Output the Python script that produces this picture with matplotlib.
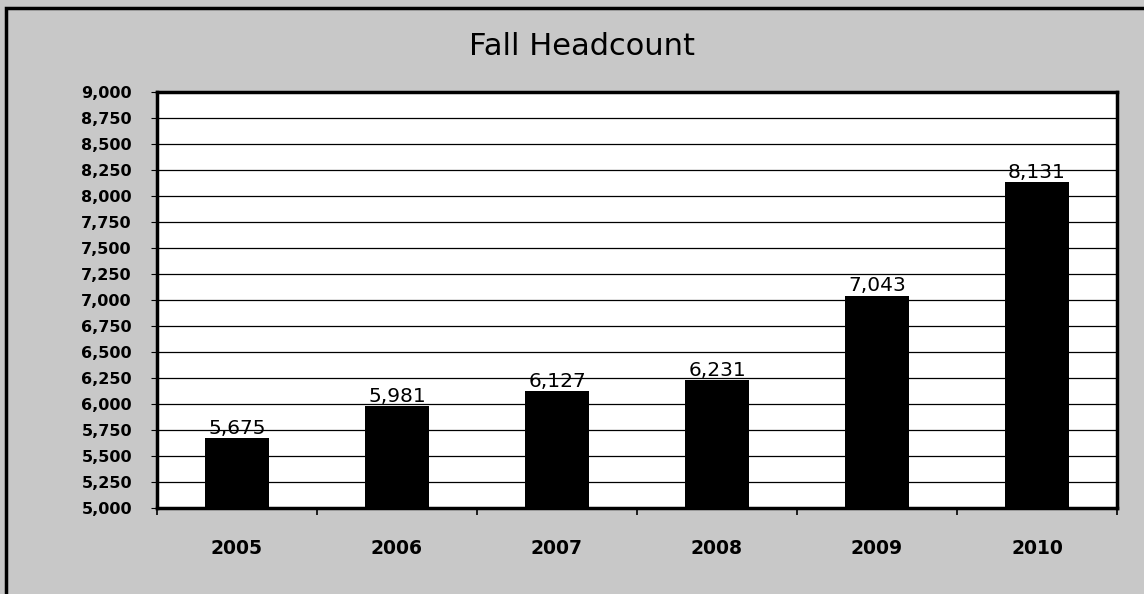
import matplotlib.pyplot as plt
from matplotlib.patches import Rectangle
from matplotlib.ticker import FuncFormatter, MultipleLocator, FixedLocator

# data
years = ['2005', '2006', '2007', '2008', '2009', '2010']
headcount = [5675, 5981, 6127, 6231, 7043, 8131]

bg = '#c8c8c8'

fig = plt.figure(figsize=(11.44, 5.94), dpi=100, facecolor=bg)
ax = fig.add_axes([157/1144, 1 - 508/594, 960/1144, 416/594])
ax.set_facecolor('white')

x = list(range(len(years)))
ax.bar(x, headcount, width=0.4, color='black', zorder=3)
ax.set_xlim(-0.5, len(years) - 0.5)
ax.set_ylim(5000, 9000)

# value labels just above the bars
for xi, v in zip(x, headcount):
    ax.annotate(f'{v:,}', (xi, v), xytext=(0, 3), textcoords='offset points',
                ha='center', va='baseline', fontsize=14.5, zorder=4)

ax.yaxis.set_major_locator(MultipleLocator(250))
ax.yaxis.set_major_formatter(FuncFormatter(lambda v, p: f'{int(v):,}'))
ax.grid(axis='y', color='black', linewidth=0.9, zorder=1)

# labels at the centres, tick marks between the categories
ax.set_xticks(x)
ax.set_xticklabels(years, fontsize=13.5, fontweight='bold')
ax.xaxis.set_minor_locator(FixedLocator([i - 0.5 for i in range(len(years) + 1)]))
ax.tick_params(axis='x', which='major', length=0, pad=22)
ax.tick_params(axis='x', which='minor', length=5, width=1.2)
for lbl in ax.get_yticklabels():
    lbl.set_fontweight('bold')
    lbl.set_fontsize(11.5)
ax.tick_params(axis='y', length=4, pad=14)

for side in ['left', 'top', 'right', 'bottom']:
    ax.spines[side].set_linewidth(2.5)

fig.text(582/1144, 1 - 55/594, 'Fall Headcount', ha='center', va='baseline', fontsize=22)

# outer frame of the scanned chart
fig.patches.append(Rectangle((6/1144, -0.1), 1.2, 1.1 - 8/594, transform=fig.transFigure,
                             fill=False, edgecolor='black', linewidth=2.5))

fig.savefig('out.png', dpi=100, facecolor=bg)
